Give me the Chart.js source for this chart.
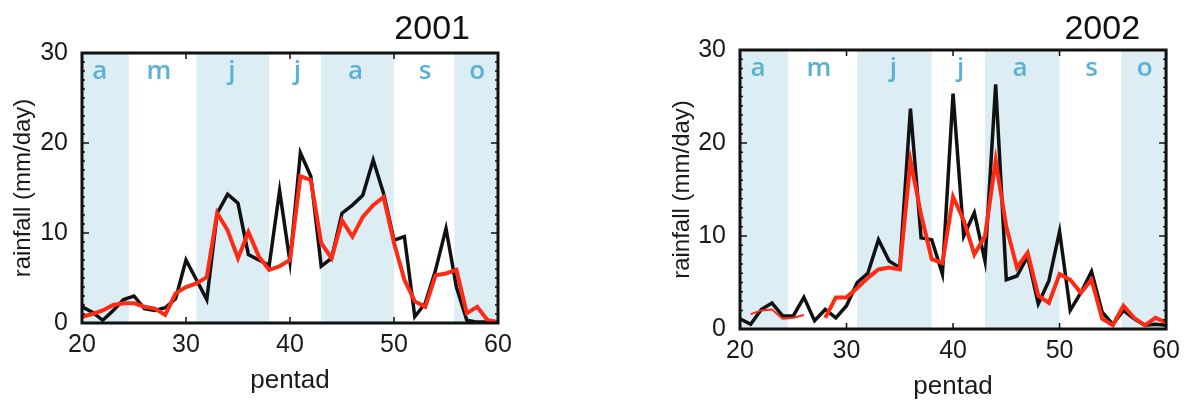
<!DOCTYPE html>
<html>
<head>
<meta charset="utf-8">
<script src="https://cdn.jsdelivr.net/npm/chart.js@4.4.1/dist/chart.umd.min.js"></script>
<style>
  body { margin: 0; background: #fff; }
  canvas { position: absolute; top: 0; }
  #chart2001 { left: 0; }
  #chart2002 { left: 640px; }
</style>
</head>
<body>
<canvas id="chart2001" width="560" height="404"></canvas>
<canvas id="chart2002" width="547" height="404"></canvas>
<script>
const pentads = [20, 21, 22, 23, 24, 25, 26, 27, 28, 29, 30, 31, 32, 33, 34, 35, 36, 37, 38, 39, 40,
  41, 42, 43, 44, 45, 46, 47, 48, 49, 50, 51, 52, 53, 54, 55, 56, 57, 58, 59, 60]

// black = observed, red = second estimate
const rain2001Black = [1.8, 1.2, 0.3, 1.4, 2.6, 3.0, 1.6, 1.4, 1.7, 2.7, 7.0, 4.8, 2.6, 12.2, 14.3, 13.3, 7.6, 7.0, 6.4, 14.7, 6.8,
  18.9, 16.3, 6.3, 7.2, 12.2, 13.1, 14.2, 18.1, 14.4, 9.2, 9.6, 0.7, 2.2, 5.9, 10.5, 4.0, 0.3, 0.1, 0.1, 0]
const rain2001Red = [0.7, 1.0, 1.4, 2.0, 2.2, 2.2, 1.8, 1.6, 0.9, 3.3, 4.0, 4.4, 5.1, 12.2, 10.3, 7.2, 10.1, 7.4, 5.9, 6.3, 7.0,
  16.3, 15.9, 8.9, 7.2, 11.4, 9.6, 11.8, 13.1, 14.0, 8.9, 4.8, 2.4, 1.8, 5.3, 5.5, 5.9, 1.1, 1.8, 0.3, 0.1]
const rain2002Black = [1.1, 0.5, 2.1, 2.8, 1.4, 1.4, 3.4, 0.9, 2.1, 1.2, 2.5, 5.0, 6.0, 9.6, 7.3, 6.6, 23.7, 9.8, 9.6, 5.9, 25.3,
  10.0, 12.5, 7.3, 26.3, 5.3, 5.7, 7.8, 2.7, 5.2, 10.5, 2.0, 3.9, 6.2, 1.8, 0.5, 2.0, 1.1, 0.4, 0.5, 0.4]
const rain2002Red = [null, 1.6, 2.0, 2.1, 1.1, 1.2, 1.5, null, 1.2, 3.4, 3.4, 4.4, 5.5, 6.4, 6.6, 6.4, 18.1, 12.3, 7.5, 7.1, 14.2,
  11.7, 8.0, 10.0, 18.1, 11.0, 6.6, 8.2, 3.6, 2.8, 5.9, 5.3, 3.9, 5.3, 1.1, 0.4, 2.5, 1.2, 0.4, 1.2, 0.7]

// shaded months (in pentads) and the month letters
const monthBands = [[20, 24.5], [31, 38], [43, 50], [55.8, 60]]
const monthLetters = ["a", "m", "j", "j", "a", "s", "o"]
const monthCenters = [21.7, 27.4, 34.4, 40.7, 46.3, 53, 58]

const xTicks = [20, 30, 40, 50, 60]
const yTicks = [0, 10, 20, 30]

const panelDecor = {
  id: "panelDecor",
  beforeDatasetsDraw(chart) {
    const { ctx, chartArea: a, scales: { x } } = chart
    ctx.save()
    ctx.fillStyle = "#dcedf3"
    monthBands.forEach(([from, to]) => {
      const x0 = x.getPixelForValue(from)
      const x1 = x.getPixelForValue(to)
      ctx.fillRect(x0, a.top, x1 - x0, a.bottom - a.top)
    })
    ctx.fillStyle = "#5cb1d3"
    ctx.font = "600 26px 'Open Sans'"
    ctx.textAlign = "center"
    ctx.textBaseline = "middle"
    monthLetters.forEach((m, i) => {
      ctx.fillText(m, x.getPixelForValue(monthCenters[i]), a.top + 19)
    })
    ctx.restore()
  },
  afterDraw(chart, args, opts) {
    const { ctx, chartArea: a, scales: { x, y } } = chart
    ctx.save()
    ctx.strokeStyle = "#111"
    ctx.lineWidth = 1.5
    ctx.beginPath()
    y.ticks.forEach(t => {
      const py = y.getPixelForValue(t.value)
      const len = t.value % 10 === 0 ? 7 : 3
      ctx.moveTo(a.left, py); ctx.lineTo(a.left + len, py)
      ctx.moveTo(a.right, py); ctx.lineTo(a.right - len, py)
    })
    x.ticks.forEach(t => {
      const px = x.getPixelForValue(t.value)
      ctx.moveTo(px, a.top); ctx.lineTo(px, a.top + 6)
      ctx.moveTo(px, a.bottom); ctx.lineTo(px, a.bottom - 6)
    })
    ctx.stroke()
    ctx.lineWidth = 3
    ctx.strokeRect(a.left, a.top, a.right - a.left, a.bottom - a.top)

    ctx.fillStyle = "#111"
    ctx.font = "34px 'Liberation Sans'"
    ctx.textAlign = "right"
    ctx.textBaseline = "middle"
    ctx.fillText(opts.year, a.right - opts.titleInset, 30)
    ctx.restore()
  }
}

function makeChart(id, year, black, red, geo) {
  const toPoints = vals => pentads.map((p, i) => ({ x: p, y: vals[i] }))
  return new Chart(document.getElementById(id), {
    type: "line",
    data: {
      datasets: [
        {
          data: toPoints(red),
          borderColor: "#ff2a14",
          borderWidth: 4,
          segment: {
            borderWidth: c => (geo.thinRedUntil && c.p1.parsed.x <= geo.thinRedUntil ? 2 : 4)
          },
          pointRadius: 0,
          tension: 0,
          spanGaps: false
        },
        {
          data: toPoints(black),
          borderColor: "#111",
          borderWidth: 3.5,
          pointRadius: 0,
          tension: 0
        }
      ]
    },
    options: {
      responsive: false,
      animation: false,
      events: [],
      layout: { padding: { left: 0, top: geo.top, right: geo.right, bottom: 0 } },
      plugins: {
        legend: { display: false },
        tooltip: { enabled: false },
        panelDecor: { year: year, titleInset: geo.titleInset }
      },
      scales: {
        x: {
          type: "linear",
          min: 20,
          max: 60,
          grid: { display: false, drawTicks: false },
          border: { display: false },
          afterBuildTicks: s => { s.ticks = xTicks.map(v => ({ value: v })) },
          ticks: { color: "#1a1a1a", font: { family: "'Liberation Sans'", size: 25 }, padding: 7, maxRotation: 0 },
          title: {
            display: true,
            text: "pentad",
            color: "#1a1a1a",
            font: { family: "'Liberation Sans'", size: 26 },
            padding: { top: 0, bottom: geo.xTitlePad }
          },
          afterFit: s => { s.height = geo.xHeight }
        },
        y: {
          min: 0,
          max: 30,
          grid: { display: false, drawTicks: false },
          border: { display: false },
          ticks: {
            stepSize: 1,
            autoSkip: false,
            color: "#1a1a1a",
            font: { family: "'Liberation Sans'", size: 25 },
            padding: 14,
            callback: v => (yTicks.includes(v) ? v : "")
          },
          title: {
            display: true,
            text: "rainfall (mm/day)",
            color: "#1a1a1a",
            font: { family: "'Liberation Sans'", size: 24 },
            padding: { top: geo.yTitlePad, bottom: 0 }
          },
          afterFit: s => { s.width = geo.yWidth }
        }
      }
    },
    plugins: [panelDecor]
  })
}

makeChart("chart2001", "2001", rain2001Black, rain2001Red,
  { top: 53, right: 62, yWidth: 82, xHeight: 81, yTitlePad: 9, xTitlePad: 8, titleInset: 28 })
makeChart("chart2002", "2002", rain2002Black, rain2002Red,
  { top: 50, right: 19, yWidth: 100, xHeight: 75, yTitlePad: 28, xTitlePad: 2, titleInset: 26, thinRedUntil: 27 })
</script>
</body>
</html>
